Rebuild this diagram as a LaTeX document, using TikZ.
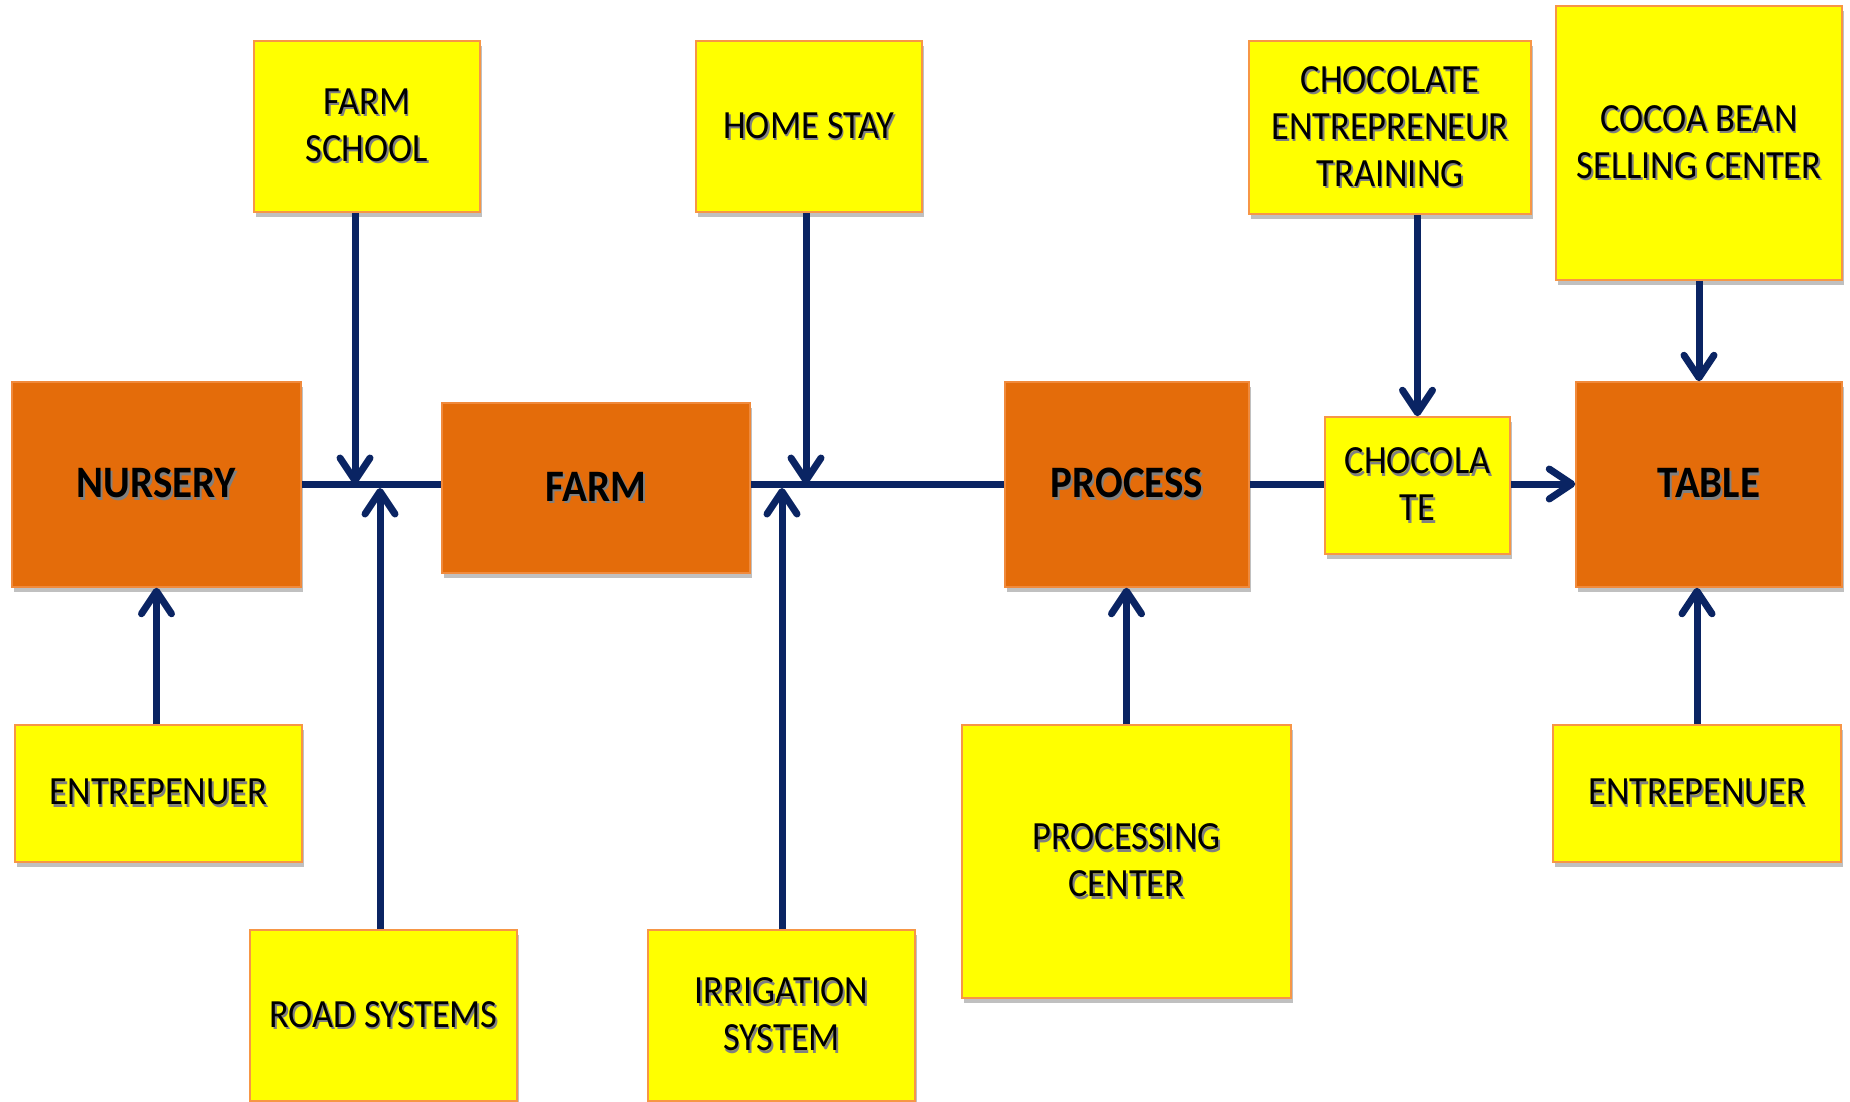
\documentclass[tikz,border=0pt]{standalone}
\usepackage{fontspec}
\setmainfont{Carlito}[FakeStretch=0.91]
\usetikzlibrary{arrows.meta,shadows}
\definecolor{yel}{HTML}{FFFF00}
\definecolor{org}{HTML}{E46C0A}
\definecolor{yline}{HTML}{F79646}
\definecolor{oline}{HTML}{F08A3C}
\definecolor{navy}{HTML}{0A2463}
\newcommand{\tsh}[1]{\leavevmode\rlap{\textcolor{black!50}{\kern0.7pt\raisebox{-1pt}{#1}}}#1}
\tikzset{
  sz/.style 2 args={minimum width=#1*0.4pt, minimum height=#2*0.4pt},
  boxbase/.style={inner sep=0pt, align=center,
    drop shadow={shadow xshift=0.6pt, shadow yshift=-1.8pt, opacity=0.35, fill=black!70}},
  ybox/.style={boxbase, draw=yline, line width=0.6pt, fill=yel,
    font=\fontsize{16}{18.8}\selectfont},
  obox/.style={boxbase, draw=oline, line width=0.6pt, fill=org,
    font=\fontsize{18}{20}\selectfont\bfseries},
  ln/.style={draw=navy, line width=2.8pt},
  arr/.style={ln, -{Straight Barb[length=9pt,width=12pt,round]}}
}
\begin{document}
\begin{tikzpicture}[x=0.4pt,y=-0.4pt]
\clip (0,0) rectangle (1850,1101);
\fill[white] (0,0) rectangle (1850,1101);
% top yellow boxes
\node[ybox, sz={226}{171}] (fschool) at (367,126.5) {\tsh{FARM}\\\tsh{SCHOOL}};
\node[ybox, sz={226}{171}] (hstay) at (809,126.5) {\tsh{HOME STAY}};
\node[ybox, sz={282}{173}] (cet) at (1390,127.5) {\tsh{CHOCOLATE}\\\tsh{ENTREPRENEUR}\\\tsh{TRAINING}};
\node[ybox, sz={286}{274}] (cocoa) at (1699,143) {\tsh{COCOA BEAN}\\\tsh{SELLING CENTER}};
% main chain
\node[obox, sz={289}{205}] (nursery) at (156.5,484.5) {\tsh{NURSERY}};
\node[obox, sz={308}{170}] (farm) at (596,488) {\tsh{FARM}};
\node[obox, sz={244}{205}] (process) at (1127,484.5) {\tsh{PROCESS}};
\node[ybox, sz={185}{137}] (choc) at (1417.5,485.5) {\tsh{CHOCOLA}\\\tsh{TE}};
\node[obox, sz={266}{205}] (table) at (1709,484.5) {\tsh{TABLE}};
% bottom yellow boxes
\node[ybox, sz={287}{137}] (ent1) at (158.5,793.5) {\tsh{ENTREPENUER}};
\node[ybox, sz={288}{137}] (ent2) at (1697,793.5) {\tsh{ENTREPENUER}};
\node[ybox, sz={329}{273}] (pc) at (1126.5,861.5) {\tsh{PROCESSING}\\\tsh{CENTER}};
\node[ybox, sz={267}{171}] (road) at (383.5,1015.5) {\tsh{ROAD SYSTEMS}};
\node[ybox, sz={267}{171}] (irr) at (781.5,1015.5) {\tsh{IRRIGATION}\\\tsh{SYSTEM}};
% junction coordinates
\coordinate (hl) at (0,484);
\coordinate (j1) at (355,484);
\coordinate (j2) at (380,488);
\coordinate (j3) at (806,484);
\coordinate (j4) at (782,488);
% horizontal chain
\draw[ln] (nursery.east |- hl) -- (farm.west |- hl);
\draw[ln] (farm.east |- hl) -- (process.west |- hl);
\draw[ln] (process.east |- hl) -- (choc.west |- hl);
\draw[arr] (choc.east |- hl) -- (table.west |- hl);
% vertical arrows
\draw[arr] (j1 |- fschool.south) -- (j1);
\draw[arr] (j2 |- road.north) -- (j2);
\draw[arr] (j3 |- hstay.south) -- (j3);
\draw[arr] (j4 |- irr.north) -- (j4);
\draw[arr] (choc.north |- cet.south) -- (choc.north);
\draw[arr] (cocoa.south) -- (cocoa.south |- table.north);
\draw[arr] (ent1.north -| nursery.south) -- (nursery.south);
\draw[arr] (pc.north) -- (pc.north |- process.south);
\draw[arr] (ent2.north) -- (ent2.north |- table.south);
\end{tikzpicture}
\end{document}
